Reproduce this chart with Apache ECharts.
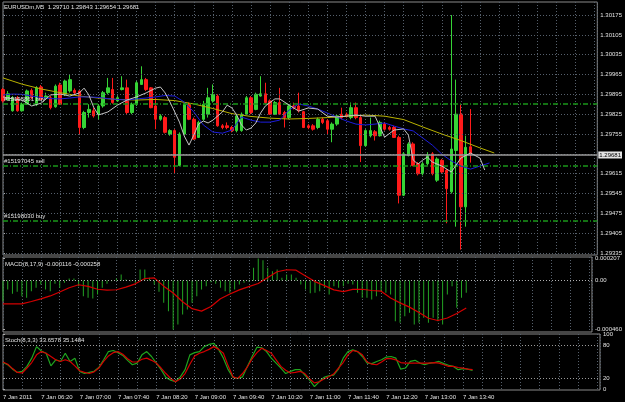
<!DOCTYPE html>
<html lang="en">
<head>
<meta charset="UTF-8" />
<title>EURUSDm,M5</title>
<script src="https://cdn.jsdelivr.net/npm/echarts@6/dist/echarts.min.js"></script>
<style>
  html, body { margin: 0; padding: 0; background: #000; }
  #main { width: 625px; height: 402px; }
</style>
</head>
<body>
<div id="main"></div>
<script>
// time labels, one every 8 bars (M5 -> 40 min)
var timeLabels = ["7 Jan 2011", "7 Jan 06:20", "7 Jan 07:00", "7 Jan 07:40", "7 Jan 08:20", "7 Jan 09:00",
  "7 Jan 09:40", "7 Jan 10:20", "7 Jan 11:00", "7 Jan 11:40", "7 Jan 12:20", "7 Jan 13:00", "7 Jan 13:40"];
var priceTicks = [1.30175, 1.30105, 1.30035, 1.29965, 1.29895, 1.29825, 1.29755, 1.29615, 1.29545,
  1.29475, 1.29405, 1.29335];
var priceGrid = [1.30175, 1.30105, 1.30035, 1.29965, 1.29895, 1.29825, 1.29755, 1.29685, 1.29615, 1.29545,
  1.29475, 1.29405, 1.29335];
var macdTicks = [0.000207, 0, -0.00046];
var stochTicks = [100, 80, 20, 0];

// candles
var openP = [1.29912,1.29877,1.29837,1.29883,1.29837,1.29860,1.29909,1.29860,1.29921,1.29883,
  1.29883,1.29851,1.29928,1.29895,1.29907,1.29909,1.29907,1.29778,1.29831,1.29837,
  1.29825,1.29854,1.29901,1.29912,1.29872,1.29912,1.29918,1.29831,1.29860,1.29930,
  1.29947,1.29918,1.29854,1.29807,1.29813,1.29755,1.29767,1.29644,1.29755,1.29860,
  1.29807,1.29743,1.29807,1.29825,1.29872,1.29889,1.29784,1.29784,1.29778,1.29767,
  1.29767,1.29825,1.29883,1.29842,1.29889,1.29897,1.29872,1.29825,1.29866,1.29831,
  1.29813,1.29854,1.29854,1.29834,1.29784,1.29784,1.29778,1.29807,1.29802,1.29772,
  1.29790,1.29825,1.29825,1.29813,1.29848,1.29813,1.29714,1.29749,1.29763,1.29749,
  1.29790,1.29778,1.29778,1.29743,1.29539,1.29679,1.29720,1.29650,1.29615,1.29650,
  1.29685,1.29592,1.29662,1.29627,1.29551,1.29697,1.29825,1.29498,1.29710];
var closeP = [1.29872,1.29897,1.29883,1.29837,1.29860,1.29907,1.29883,1.29918,1.29877,1.29889,
  1.29848,1.29924,1.29860,1.29942,1.29947,1.29901,1.29778,1.29831,1.29842,1.29819,
  1.29854,1.29901,1.29918,1.29866,1.29883,1.29918,1.29831,1.29860,1.29936,1.29947,
  1.29912,1.29848,1.29807,1.29819,1.29761,1.29767,1.29673,1.29755,1.29860,1.29807,
  1.29737,1.29796,1.29860,1.29883,1.29895,1.29784,1.29778,1.29778,1.29767,1.29819,
  1.29825,1.29883,1.29831,1.29895,1.29897,1.29866,1.29825,1.29866,1.29825,1.29813,
  1.29854,1.29848,1.29837,1.29778,1.29778,1.29772,1.29807,1.29796,1.29772,1.29790,
  1.29819,1.29813,1.29819,1.29848,1.29813,1.29714,1.29767,1.29767,1.29749,1.29796,
  1.29772,1.29772,1.29743,1.29539,1.29685,1.29720,1.29644,1.29615,1.29650,1.29679,
  1.29615,1.29667,1.29621,1.29562,1.29702,1.29825,1.29498,1.29708,1.29681];
var lowP = [1.29866,1.29872,1.29834,1.29834,1.29834,1.29858,1.29877,1.29854,1.29874,1.29877,
  1.29842,1.29848,1.29858,1.29889,1.29901,1.29895,1.29755,1.29772,1.29813,1.29813,
  1.29807,1.29848,1.29895,1.29862,1.29869,1.29909,1.29825,1.29825,1.29854,1.29928,
  1.29907,1.29846,1.29772,1.29802,1.29757,1.29749,1.29615,1.29641,1.29753,1.29804,
  1.29734,1.29741,1.29802,1.29813,1.29866,1.29781,1.29772,1.29772,1.29761,1.29761,
  1.29763,1.29823,1.29825,1.29839,1.29887,1.29862,1.29823,1.29823,1.29823,1.29778,
  1.29807,1.29842,1.29831,1.29776,1.29772,1.29767,1.29772,1.29790,1.29755,1.29726,
  1.29784,1.29807,1.29813,1.29807,1.29807,1.29656,1.29711,1.29743,1.29732,1.29746,
  1.29767,1.29767,1.29741,1.29510,1.29536,1.29676,1.29641,1.29609,1.29609,1.29644,
  1.29609,1.29586,1.29615,1.29440,1.29545,1.29428,1.29347,1.29428,1.29654];
var highP = [1.29918,1.29907,1.29889,1.29889,1.29866,1.29912,1.29916,1.29924,1.29928,1.29901,
  1.29889,1.29930,1.29936,1.29947,1.29965,1.29916,1.29909,1.29837,1.29860,1.29848,
  1.29860,1.29907,1.29953,1.29953,1.29889,1.29959,1.29947,1.29866,1.29942,1.29994,
  1.29953,1.29921,1.29883,1.29825,1.29819,1.29772,1.29772,1.29761,1.29866,1.29866,
  1.29813,1.29802,1.29872,1.29918,1.29930,1.29895,1.29790,1.29796,1.29784,1.29825,
  1.29831,1.29889,1.29889,1.29901,1.29959,1.29936,1.29877,1.29872,1.29918,1.29837,
  1.29860,1.29866,1.29901,1.29837,1.29790,1.29790,1.29813,1.29813,1.29807,1.29796,
  1.29825,1.29848,1.29831,1.29866,1.29866,1.29819,1.29772,1.29813,1.29769,1.29802,
  1.29796,1.29784,1.29784,1.29749,1.29691,1.29726,1.29726,1.29656,1.29656,1.29691,
  1.29691,1.29673,1.29667,1.29632,1.30175,1.29947,1.29860,1.29749,1.29843];

// moving averages (shifted forward a few bars)
var yellowBars = [0,4,8,12,16,20,24,28,32,36,40,44,48,52,56,60,64,68,72,76,80,84,88,92,96,100,103];
var yellowMA = [1.29953,1.29931,1.29914,1.29901,1.29889,1.29882,1.29877,1.29875,1.29877,1.29873,
  1.29861,1.29845,1.29827,1.29817,1.29811,1.29808,1.29810,1.29813,1.29818,1.29822,
  1.29818,1.29806,1.29780,1.29755,1.29732,1.29706,1.29688];
var blueBars = [0,2,4,6,8,10,12,14,16,18,20,22,24,26,28,30,32,34,36,38,40,42,44,46,48,50,
  52,54,56,58,60,62,64,66,68,70,72,74,76,78,80,82,84,86,88,90,92,94,96,98,100,102];
var blueMA = [1.29893,1.29896,1.29895,1.29889,1.29884,1.29880,1.29879,1.29882,1.29886,1.29886,
  1.29884,1.29880,1.29877,1.29875,1.29879,1.29882,1.29886,1.29891,1.29889,1.29868,
  1.29833,1.29787,1.29762,1.29758,1.29769,1.29815,1.29804,1.29797,1.29797,1.29804,
  1.29840,1.29861,1.29854,1.29843,1.29829,1.29815,1.29801,1.29790,1.29787,1.29790,
  1.29794,1.29783,1.29773,1.29766,1.29741,1.29716,1.29684,1.29660,1.29642,1.29631,
  1.29642,1.29653];
var silverBars = [0,2,4,6,8,10,12,14,16,17,18,19,20,22,24,26,28,30,32,33,34,35,36,37,38,39,40,41,
  42,43,44,46,47,48,49,50,51,52,53,54,55,57,58,60,62,64,66,68,70,72,74,76,78,80,82,84,85,86,87,
  88,89,90,92,94,96,98,100,101];
var silverMA = [1.29886,1.29879,1.29875,1.29854,1.29864,1.29893,1.29896,1.29889,1.29900,
  1.29917,1.29893,1.29850,1.29822,1.29833,1.29857,1.29875,1.29886,1.29900,1.29917,
  1.29921,1.29900,1.29868,1.29833,1.29797,1.29748,1.29716,1.29751,1.29790,1.29801,1.29794,1.29804,
  1.29833,1.29857,1.29847,1.29822,1.29787,1.29769,1.29776,1.29794,1.29829,1.29854,
  1.29879,1.29879,1.29857,1.29836,1.29847,1.29843,1.29818,1.29815,1.29818,1.29822,1.29818,1.29818,
  1.29744,1.29769,1.29773,1.29751,1.29663,1.29649,1.29663,1.29674,1.29656,
  1.29642,1.29621,1.29670,1.29688,1.29670,1.29628];

// order lines and bid
var orderLevels = [1.29863, 1.29643, 1.29449];
var orderNames = ["#15195861 buy", "#15197045 sell", "#15198030 buy"];
var bidPrice = 1.29681;

// MACD(8,17,9)
var macdHist = [-0.000194,-0.000085,-0.000125,-0.000106,-0.000147,-0.000163,-0.000100,-0.000069,-0.000038,-0.000085,
  -0.000100,-0.000031,-0.000069,-0.000022,0.000019,0.000019,-0.000053,-0.000147,-0.000163,-0.000169,
  -0.000131,-0.000069,-0.000031,-0.000006,0.000019,0.000056,0.000009,-0.000006,-0.000022,0.000103,
  0.000103,0.000025,-0.000038,-0.000106,-0.000210,-0.000288,-0.000460,-0.000413,-0.000319,-0.000272,
  -0.000210,-0.000147,-0.000085,-0.000053,-0.000016,-0.000031,-0.000069,-0.000100,-0.000116,-0.000085,
  -0.000038,-0.000022,-0.000009,0.000119,0.000207,0.000190,0.000119,0.000088,0.000103,0.000025,
  0.000056,0.000056,0.000025,-0.000038,-0.000085,-0.000120,-0.000116,-0.000100,-0.000069,-0.000131,
  -0.000053,-0.000069,-0.000053,-0.000031,-0.000038,-0.000116,-0.000163,-0.000163,-0.000178,-0.000147,
  -0.000100,-0.000116,-0.000131,-0.000382,-0.000398,-0.000335,-0.000304,-0.000413,-0.000398,-0.000351,
  -0.000398,-0.000351,-0.000382,-0.000413,-0.000131,-0.000053,-0.000257,-0.000163,-0.000116];
var signalBars = [0,2,4,6,8,10,12,14,16,18,20,22,24,26,28,30,32,34,36,38,40,42,44,46,48,
  50,52,54,56,58,60,62,64,66,68,70,72,74,76,78,80,82,84,86,88,90,92,94,96,98];
var macdSignal = [-0.000219,-0.000219,-0.000219,-0.000197,-0.000172,-0.000145,-0.000108,-0.000068,-0.000040,-0.000055,
  -0.000082,-0.000091,-0.000087,-0.000062,-0.000031,0.000019,0.000025,-0.000053,-0.000118,-0.000200,
  -0.000265,-0.000288,-0.000245,-0.000172,-0.000127,-0.000088,-0.000057,-0.000028,0.000028,0.000082,
  0.000101,0.000097,0.000043,-0.000010,-0.000048,-0.000088,-0.000104,-0.000083,-0.000082,-0.000094,
  -0.000100,-0.000165,-0.000210,-0.000250,-0.000300,-0.000355,-0.000376,-0.000352,-0.000310,-0.000258];

// Stoch(8,3,3)
var stochK = [48,44,36,30,32,41,56,77,69,65, 42,53,50,65,50,56,32,28,30,32,
  39,53,68,70,66,61,52,44,47,62, 68,59,47,35,21,16,13,22,35,62,
  66,68,77,81,83,72,56,35,21,19, 22,41,59,76,75,68,56,47,38,28,
  32,35,35,25,16,4,13,21,24,25, 36,56,68,71,68,59,47,46,50,53,
  58,59,56,36,38,50,52,47,44,47, 48,50,46,43,41,35,37,36,33.6578];
var stochD = [49,45,37,30,29,38,48,62,68,65, 59,53,50,53,50,42,33,30,28,31,
  38,50,60,66,68,63,55,49,49,54, 56,52,47,38,28,19,13,18,28,45,
  60,65,68,72,77,72,65,42,22,19, 28,40,55,66,74,70,65,53,41,34,
  29,30,32,28,18,11,13,18,22,27, 38,48,62,70,68,62,49,45,44,49,
  55,55,53,48,47,47,47,47,47,47, 48,47,44,41,41,39,38,36,35.1484];

var font = "Liberation Sans";
var txt = "#e2e2e2";
var gridColor = "#56606c";

function pairs(xs, ys) {
  return xs.map(function (x, i) { return [x, ys[i]]; });
}
var candles = openP.map(function (o, i) {
  return [i, o, closeP[i], lowP[i], highP[i]];
});
var last = openP.length - 1;

function xAx(idx, labels) {
  return {
    type: "value", gridIndex: idx, min: 0, max: 124.6, interval: 4,
    axisLine: { show: false }, axisTick: { show: false },
    splitLine: { show: true, lineStyle: { color: gridColor, type: [1, 2], width: 1 } },
    axisLabel: labels ? {
      show: true, color: txt, fontFamily: font, fontSize: 6, align: "left", margin: 4,
      formatter: function (v) { return v % 8 === 0 && timeLabels[v / 8] ? timeLabels[v / 8] : ""; }
    } : { show: false }
  };
}
function yLabel(vals, fmt) {
  return { customValues: vals, color: txt, fontFamily: font, fontSize: 6, margin: 3, formatter: fmt };
}
// horizontal marker lines (precision kept high so price levels are not rounded)
function hLines(vals, color) {
  return {
    silent: true, symbol: ["none", "none"], animation: false, precision: 8,
    label: { show: false },
    lineStyle: { color: color, type: [1, 2], width: 1 },
    data: vals.map(function (v) { return { yAxis: v }; })
  };
}

var mainLines = hLines(priceGrid, gridColor);
orderLevels.forEach(function (v, i) {
  mainLines.data.push({
    yAxis: v,
    lineStyle: { color: "#1a961a", type: [5, 2, 1, 2], width: 1.5 },
    label: { show: true, position: "insideStartTop", formatter: orderNames[i],
      color: txt, fontFamily: font, fontSize: 6, distance: 1 }
  });
});
mainLines.data.push({
  yAxis: bidPrice,
  lineStyle: { color: "#9a9a9a", type: "solid", width: 1.5 },
  label: { show: true, position: "end", formatter: bidPrice.toFixed(5), color: "#000",
    backgroundColor: "#e4e4e4", padding: [1, 1, 0, 1], fontFamily: font, fontSize: 6, distance: 1 }
});

var chart = echarts.init(document.getElementById("main"));
var option = {
  backgroundColor: "#000",
  animation: false,
  title: [
    { text: "EURUSDm,M5  " + [openP[last], highP[last], lowP[last], closeP[last]].map(function (v) { return v.toFixed(5); }).join(" "),
      left: 4, top: 4, padding: 0, textStyle: { color: txt, fontFamily: font, fontSize: 6, fontWeight: "normal" } },
    { text: "MACD(8,17,9) " + macdHist[last].toFixed(6) + " " + macdSignal[macdSignal.length - 1].toFixed(6),
      left: 5, top: 261, padding: 0, textStyle: { color: txt, fontFamily: font, fontSize: 6, fontWeight: "normal" } },
    { text: "Stoch(8,3,3) " + stochK[last].toFixed(4) + " " + stochD[last].toFixed(4),
      left: 5, top: 337, padding: 0, textStyle: { color: txt, fontFamily: font, fontSize: 6, fontWeight: "normal" } }
  ],
  grid: [
    { left: 3, right: 25, top: 2, height: 253, show: true, borderColor: "#8a8a8a", borderWidth: 1 },
    { left: 3, right: 25, top: 257, height: 75, show: true, borderColor: "#8a8a8a", borderWidth: 1 },
    { left: 3, right: 25, top: 334, height: 56, show: true, borderColor: "#8a8a8a", borderWidth: 1 }
  ],
  xAxis: [xAx(0, false), xAx(1, false), xAx(2, true)],
  yAxis: [
    { type: "value", gridIndex: 0, position: "right", min: 1.29328, max: 1.30221,
      splitLine: { show: false }, axisLine: { show: false },
      axisTick: { show: true, customValues: priceTicks, length: 2, lineStyle: { color: "#aaa" } },
      axisLabel: yLabel(priceTicks, function (v) { return v.toFixed(5); }) },
    { type: "value", gridIndex: 1, position: "right", min: -0.000484, max: 0.000221,
      splitLine: { show: false }, axisLine: { show: false },
      axisTick: { show: true, customValues: macdTicks, length: 2, lineStyle: { color: "#aaa" } },
      axisLabel: yLabel(macdTicks, function (v) { return v === 0 ? "0.00" : v.toFixed(6); }) },
    { type: "value", gridIndex: 2, position: "right", min: -2, max: 100,
      splitLine: { show: false }, axisLine: { show: false },
      axisTick: { show: true, customValues: stochTicks, length: 2, lineStyle: { color: "#aaa" } },
      axisLabel: yLabel(stochTicks, function (v) { return String(v); }) }
  ],
  series: [
    { type: "candlestick", xAxisIndex: 0, yAxisIndex: 0, data: candles,
      encode: { x: 0, y: [1, 2, 3, 4] }, barWidth: 3, clip: false, z: 3,
      itemStyle: { color: "#36d436", color0: "#ff1a1a", borderColor: "#36d436", borderColor0: "#ff1a1a", borderWidth: 1 },
      markLine: mainLines },
    { type: "line", xAxisIndex: 0, yAxisIndex: 0, data: pairs(yellowBars, yellowMA), showSymbol: false,
      lineStyle: { color: "#b9b200", width: 1 }, z: 4 },
    { type: "line", xAxisIndex: 0, yAxisIndex: 0, data: pairs(blueBars, blueMA), showSymbol: false,
      lineStyle: { color: "#1c1cdc", width: 1 }, z: 4 },
    { type: "line", xAxisIndex: 0, yAxisIndex: 0, data: pairs(silverBars, silverMA), showSymbol: false,
      lineStyle: { color: "#c4c4c4", width: 1 }, z: 5 },
    { type: "bar", xAxisIndex: 1, yAxisIndex: 1, data: macdHist.map(function (v, i) { return [i, v]; }),
      barWidth: 1, itemStyle: { color: "#23a323" }, markLine: hLines([0], "#b0b0b0") },
    { type: "line", xAxisIndex: 1, yAxisIndex: 1, data: pairs(signalBars, macdSignal), showSymbol: false,
      lineStyle: { color: "#d40000", width: 1.2 }, z: 4 },
    { type: "line", xAxisIndex: 2, yAxisIndex: 2, data: stochK.map(function (v, i) { return [i, v]; }),
      showSymbol: false, lineStyle: { color: "#1fa51f", width: 1.2 }, markLine: hLines([80, 20], "#9a9a9a") },
    { type: "line", xAxisIndex: 2, yAxisIndex: 2, data: stochD.map(function (v, i) { return [i, v]; }),
      showSymbol: false, lineStyle: { color: "#d40000", width: 1.2 } }
  ]
};
chart.setOption(option);
</script>
</body>
</html>
